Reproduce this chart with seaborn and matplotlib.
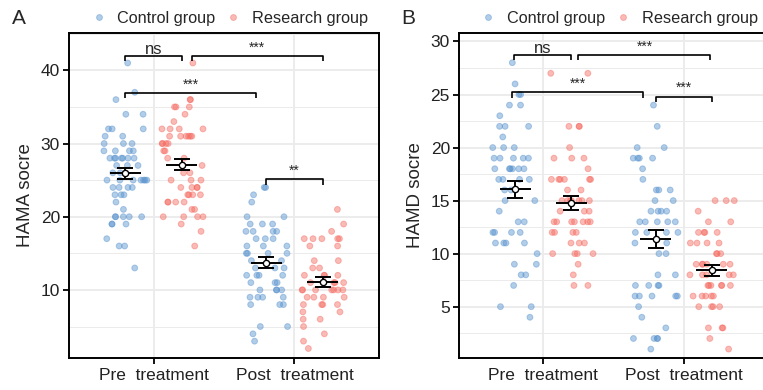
import numpy as np
import pandas as pd
import matplotlib
matplotlib.use("Agg")
import matplotlib.pyplot as plt
from matplotlib.ticker import MultipleLocator, AutoMinorLocator
import seaborn as sns

# kategori dan label
TIMES = ["Pre  treatment", "Post  treatment"]
GROUPS = ["Control group", "Research group"]
COLORS = {"Control group": "#5591CD", "Research group": "#F5695F"}

# Panel A - HAMA
a_ctrl_pre = [41, 37, 36, 34, 34, 32, 32, 32, 31, 31, 30, 30, 30, 29, 29, 29, 29,
              28, 28, 28, 28, 28, 28, 28, 27, 27, 27, 26, 26, 25, 25, 25, 25, 25,
              25, 25, 24, 24, 24, 24, 23, 23, 23, 22, 21, 20, 20, 20, 20, 20, 19,
              19, 19, 17, 16, 16, 13]
a_res_pre = [41, 36, 36, 35, 35, 35, 34, 33, 32, 32, 32, 32, 31, 31, 31, 31, 31, 31,
             30, 30, 30, 30, 29, 29, 28, 28, 27, 26, 26, 25, 25, 25, 24, 24, 24, 24,
             23, 23, 23, 23, 22, 22, 22, 22, 21, 21, 20, 20, 20, 20, 19, 18, 16]
a_ctrl_post = [24, 24, 23, 22, 20, 20, 19, 19, 19, 18, 18, 18, 18, 17, 17, 17, 16,
               16, 16, 15, 15, 15, 15, 14, 14, 13, 13, 13, 12, 12, 12, 12, 11, 11,
               11, 10, 10, 10, 10, 9, 9, 9, 9, 8, 8, 8, 5, 5, 4, 3]
a_res_post = [21, 19, 18, 17, 17, 17, 17, 17, 16, 16, 14, 14, 13, 13, 12, 12, 12, 12,
              11, 11, 11, 11, 10, 10, 10, 10, 10, 10, 10, 9, 9, 9, 9, 8, 8, 8, 8, 7,
              7, 6, 6, 5, 4, 3, 2]

# Panel B - HAMD
b_ctrl_pre = [28, 26, 25, 25, 24, 24, 23, 22, 22, 22, 21, 20, 20, 20, 19, 19, 19, 19,
              19, 18, 18, 18, 18, 18, 18, 17, 17, 17, 17, 16, 16, 15, 15, 14, 13, 13,
              12, 12, 12, 12, 11, 11, 11, 11, 10, 9, 9, 8, 8, 7, 5, 5, 4]
b_res_pre = [27, 27, 22, 22, 22, 20, 19, 19, 19, 18, 17, 17, 17, 17, 17, 17, 16, 16,
             15, 15, 15, 15, 15, 15, 15, 14, 14, 14, 13, 13, 13, 13, 13, 13, 13, 12,
             12, 12, 12, 11, 11, 11, 10, 10, 10, 10, 9, 8, 7, 7]
b_ctrl_post = [24, 22, 20, 20, 19, 19, 19, 19, 18, 17, 16, 16, 16, 15, 15, 14, 14, 14,
               14, 13, 13, 13, 13, 13, 12, 12, 12, 12, 11, 11, 10, 10, 8, 8, 7, 7, 7,
               7, 6, 6, 6, 6, 6, 5, 4, 3, 2, 2, 2, 2, 1]
b_res_post = [15, 15, 15, 14, 13, 13, 12, 12, 12, 12, 11, 11, 11, 11, 10, 10, 10, 9,
              9, 9, 9, 9, 9, 8, 8, 8, 8, 8, 7, 7, 7, 7, 7, 7, 6, 6, 6, 6, 6, 5, 5, 5,
              5, 3, 3, 3, 2, 1]

# bracket signifikansi: (x1, x2, y, label)
a_brackets = [(-0.2, 0.2, 42.0, "ns"), (0.27, 1.2, 42.0, "***"),
              (-0.2, 0.73, 36.9, "***"), (0.8, 1.2, 25.1, "**")]
b_brackets = [(-0.21, 0.2, 28.75, "ns"), (0.25, 1.19, 28.75, "***"),
              (-0.22, 0.71, 25.2, "***"), (0.8, 1.2, 24.8, "***")]


def make_df(ctrl_pre, res_pre, ctrl_post, res_post):
    rows = []
    for t, g, vals in [(TIMES[0], GROUPS[0], ctrl_pre), (TIMES[0], GROUPS[1], res_pre),
                       (TIMES[1], GROUPS[0], ctrl_post), (TIMES[1], GROUPS[1], res_post)]:
        for v in vals:
            rows.append({"time": t, "group": g, "score": v})
    return pd.DataFrame(rows)


def draw_panel(ax, df, ylabel, ylim, major, brackets):
    sns.stripplot(data=df, x="time", y="score", hue="group", order=TIMES,
                  hue_order=GROUPS, palette=COLORS, dodge=True, jitter=0.32,
                  size=4.2, linewidth=0.7, edgecolor="face", alpha=0.45, ax=ax)

    # mean +- SE
    stats = df.groupby(["time", "group"])["score"].agg(["mean", "sem"])
    for i, t in enumerate(TIMES):
        for j, g in enumerate(GROUPS):
            x = i + (-0.2 if j == 0 else 0.2)
            m, se = stats.loc[(t, g), "mean"], stats.loc[(t, g), "sem"]
            ax.errorbar(x, m, yerr=se, fmt="none", ecolor="black", elinewidth=1.4,
                        capsize=6, capthick=1.4, zorder=5)
            ax.hlines(m, x - 0.11, x + 0.11, color="black", lw=1.4, zorder=5)
            ax.plot(x, m, "o", ms=4.5, mfc="white", mec="black", mew=1.0, zorder=6)

    ax.set_xlim(-0.6, 1.6)
    ax.set_ylim(*ylim)
    ax.yaxis.set_major_locator(MultipleLocator(major))
    ax.yaxis.set_minor_locator(AutoMinorLocator(2))
    ax.grid(True, which="major", color="#EBEBEB", lw=1.3)
    ax.grid(True, which="minor", axis="y", color="#EBEBEB", lw=0.7)
    ax.set_axisbelow(True)
    for s in ax.spines.values():
        s.set_visible(True)
        s.set_color("black")
        s.set_linewidth(1.4)
    ax.tick_params(which="major", length=4.5, width=1.3, color="black",
                   labelsize=12.5, labelcolor="#222222", pad=2, left=True, bottom=True)
    ax.tick_params(axis="x", labelsize=12.5, pad=3)
    ax.tick_params(which="minor", length=0)
    ax.set_xlabel("")
    ax.set_ylabel(ylabel, fontsize=13.5, labelpad=5)

    tip = 0.016 * (ylim[1] - ylim[0])
    for x1, x2, y, lab in brackets:
        ax.plot([x1, x1, x2, x2], [y - tip, y, y, y - tip], color="black", lw=1.2,
                solid_capstyle="butt", clip_on=False, zorder=4)
        if lab == "ns":
            ax.annotate(lab, xy=((x1 + x2) / 2, y), xytext=(0, 1.5),
                        textcoords="offset points", ha="center", va="baseline",
                        fontsize=12)
        else:
            ax.annotate(lab, xy=((x1 + x2) / 2, y), xytext=(0, 1.0),
                        textcoords="offset points", ha="center", va="bottom",
                        fontsize=10)

    handles, labels = ax.get_legend_handles_labels()
    ax.legend(handles, labels, loc="center", bbox_to_anchor=(0.52, 1.046), ncol=2,
              frameon=False, fontsize=11.7, handlelength=0.8, handletextpad=0.75,
              columnspacing=0.7, markerscale=1.0, borderaxespad=0, borderpad=0)


sns.set_style("white")
plt.rcParams["font.family"] = ["Liberation Sans", "DejaVu Sans"]

fig = plt.figure(figsize=(7.63, 3.9), dpi=100)
ax_a = fig.add_axes([69 / 763, 32 / 390, 310 / 763, 325 / 390])
ax_b = fig.add_axes([459 / 763, 32 / 390, 309 / 763, 325 / 390])

df_a = make_df(a_ctrl_pre, a_res_pre, a_ctrl_post, a_res_post)
df_b = make_df(b_ctrl_pre, b_res_pre, b_ctrl_post, b_res_post)

np.random.seed(3)
draw_panel(ax_a, df_a, "HAMA socre", (0.7, 45.1), 10, a_brackets)
draw_panel(ax_b, df_b, "HAMD socre", (0.16, 30.8), 5, b_brackets)

fig.text(12 / 763, 1 - 18 / 390, "A", fontsize=15, va="center", ha="left")
fig.text(401 / 763, 1 - 18 / 390, "B", fontsize=15, va="center", ha="left")

fig.savefig("out.png", dpi=100)
